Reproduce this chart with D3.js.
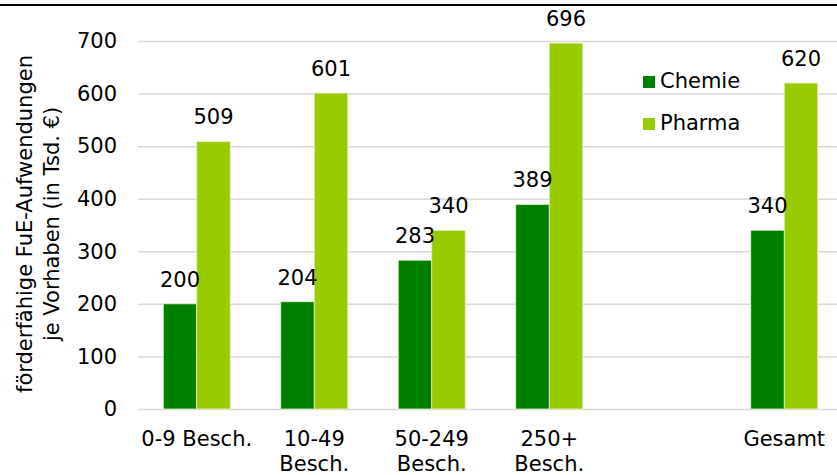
<!DOCTYPE html>
<html>
<head>
<meta charset="utf-8">
<script src="https://cdn.jsdelivr.net/npm/d3@7"></script>
<style>
  html, body { margin: 0; padding: 0; background: #fff; }
  svg { display: block; font-family: Verdana, 'DejaVu Sans', sans-serif; }
</style>
</head>
<body>
<div id="chart"></div>
<script>
// Category labels (line-wrapped as in the source) — the empty slot is a gap before "Gesamt"
const CATEGORIES = ['0-9', '10-49', '50-249', '250+', 'gap', 'Gesamt']
const CATEGORY_LABELS = [['0-9 Besch.'], ['10-49', 'Besch.'], ['50-249', 'Besch.'], ['250+', 'Besch.'], [], ['Gesamt']]
const SERIES = ['Chemie', 'Pharma']
const CHEMIE = [200, 204, 283, 389, null, 340]
const PHARMA = [509, 601, 340, 696, null, 620]
const Y_TICKS = [0, 100, 200, 300, 400, 500, 600, 700]
const Y_TITLE = ['förderfähige FuE-Aufwendungen', 'je Vorhaben (in Tsd. €)']

const COLORS = { Chemie: '#008000', Pharma: '#99cc00' }
const FS = 21

const totalW = 837
const totalH = 475

const svg = d3.select('#chart')
  .append('svg')
  .attr('width', totalW)
  .attr('height', totalH)

// Top rule
svg.append('line')
  .attr('x1', 0).attr('x2', totalW)
  .attr('y1', 5).attr('y2', 5)
  .attr('stroke', '#000').attr('stroke-width', 2)

// Scales
const x = d3.scaleBand()
  .domain(CATEGORIES)
  .range([138, 843])

const groupW = x.bandwidth() * 0.57
const xs = d3.scaleBand()
  .domain(SERIES)
  .range([0, groupW])

const y = d3.scaleLinear()
  .domain([0, 700])
  .range([409, 41])

// Grid lines
svg.append('g')
  .attr('transform', 'translate(138,0)')
  .call(d3.axisLeft(y).tickValues(Y_TICKS).tickSize(-(totalW - 138)).tickFormat(''))
  .call(g => g.select('.domain').remove())
  .call(g => g.selectAll('line').attr('stroke', '#d9d9d9').attr('stroke-width', 1.5))

// Y tick labels
svg.append('g')
  .attr('transform', 'translate(117,0)')
  .call(d3.axisLeft(y).tickValues(Y_TICKS).tickSize(0).tickPadding(0))
  .call(g => g.select('.domain').remove())
  .call(g => g.selectAll('text')
    .attr('fill', '#000')
    .attr('font-size', FS)
    .attr('font-family', "Verdana, 'DejaVu Sans', sans-serif"))

// Bars
const rows = CATEGORIES.map((c, i) => ({ cat: c, Chemie: CHEMIE[i], Pharma: PHARMA[i] }))
const flat = []
rows.forEach(r => SERIES.forEach(s => { if (r[s] != null) flat.push({ cat: r.cat, key: s, value: r[s] }) }))

const offset = (x.bandwidth() - groupW) / 2

svg.append('g')
  .selectAll('rect')
  .data(flat)
  .enter().append('rect')
  .attr('x', d => x(d.cat) + offset + xs(d.key))
  .attr('y', d => y(d.value))
  .attr('width', xs.bandwidth())
  .attr('height', d => y(0) - y(d.value))
  .attr('fill', d => COLORS[d.key])
  .attr('stroke', '#e8f2d0')
  .attr('stroke-width', 0.75)

// Value labels
svg.append('g')
  .selectAll('text')
  .data(flat)
  .enter().append('text')
  .attr('x', d => x(d.cat) + offset + xs(d.key) + xs.bandwidth() / 2)
  .attr('y', d => y(d.value) - 17)
  .attr('text-anchor', 'middle')
  .attr('font-size', FS)
  .attr('fill', '#000')
  .text(d => d.value)

// X category labels
CATEGORIES.forEach((c, i) => {
  const t = svg.append('text')
    .attr('x', x(c) + x.bandwidth() / 2)
    .attr('y', 446)
    .attr('text-anchor', 'middle')
    .attr('font-size', FS)
    .attr('fill', '#000')
  CATEGORY_LABELS[i].forEach((line, j) => {
    t.append('tspan')
      .attr('x', x(c) + x.bandwidth() / 2)
      .attr('dy', j === 0 ? 0 : 25)
      .text(line)
  })
})

// Y axis title
const yt = svg.append('text')
  .attr('transform', 'translate(32,224) rotate(-90)')
  .attr('text-anchor', 'middle')
  .attr('font-size', FS)
  .attr('fill', '#000')
Y_TITLE.forEach((line, j) => {
  yt.append('tspan').attr('x', 0).attr('dy', j === 0 ? 0 : 27).text(line)
})

// Legend
const legend = svg.append('g').attr('transform', 'translate(643,76)')
SERIES.forEach((s, i) => {
  const row = legend.append('g').attr('transform', `translate(0,${i * 42})`)
  row.append('rect')
    .attr('width', 12).attr('height', 12)
    .attr('fill', COLORS[s])
  row.append('text')
    .attr('x', 17).attr('y', 12)
    .attr('font-size', FS)
    .attr('fill', '#000')
    .text(s)
})
</script>
</body>
</html>
